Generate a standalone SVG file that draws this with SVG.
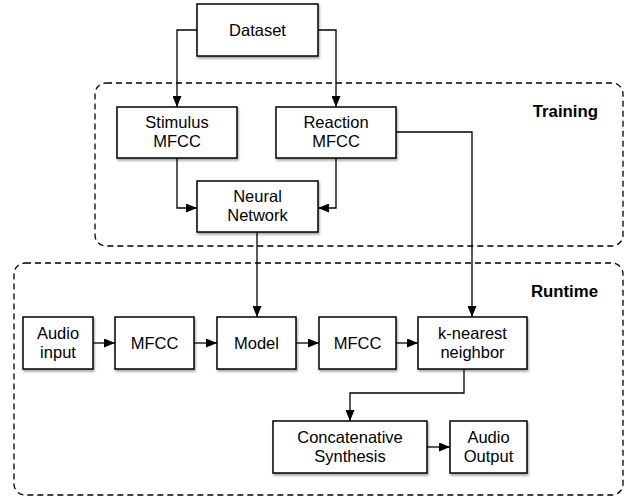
<svg xmlns="http://www.w3.org/2000/svg" width="633" height="497" viewBox="0 0 633 497">
<style>
.box{fill:#fff;stroke:#000;stroke-width:1.5;filter:url(#sh)}
.grp{fill:none;stroke:#000;stroke-width:1.3;stroke-dasharray:6,4}
.t{font-family:"Liberation Sans",Arial,sans-serif;font-size:16.5px;fill:#000;text-anchor:middle}
.lbl{font-family:"Liberation Sans",Arial,sans-serif;font-size:16.8px;font-weight:bold;fill:#000;text-anchor:end}
.c{fill:none;stroke:#000;stroke-width:1.3;marker-end:url(#ah)}
</style>
<defs>
<filter id="sh" x="-10%" y="-10%" width="130%" height="140%">
<feDropShadow dx="1" dy="2" stdDeviation="1.2" flood-color="#000" flood-opacity="0.35"/>
</filter>
<marker id="ah" viewBox="0 0 11 9" refX="11" refY="4.5" markerWidth="11" markerHeight="9" markerUnits="userSpaceOnUse" orient="auto">
<path d="M0,0 L11,4.5 L0,9 Z" fill="#000"/>
</marker>
</defs>
<g id="training">
<rect class="grp" x="95" y="83" width="528" height="163" rx="11"/>
<text class="lbl" x="598" y="117">Training</text>
</g>
<g id="runtime">
<rect class="grp" x="14" y="263" width="609" height="232" rx="11"/>
<text class="lbl" x="598" y="297">Runtime</text>
</g>
<g id="connectors">
<path class="c" d="M197,30 H177 V107"/>
<path class="c" d="M318,30 H336 V107"/>
<path class="c" d="M177,158 V208 H197"/>
<path class="c" d="M336,158 V208 H318"/>
<path class="c" d="M396,132 H472 V317"/>
<path class="c" d="M257,232 V317"/>
<path class="c" d="M93,343 H115"/>
<path class="c" d="M194,343 H217"/>
<path class="c" d="M296,343 H319"/>
<path class="c" d="M396,343 H418"/>
<path class="c" d="M464,369 V393 H350 V421"/>
<path class="c" d="M427,447 H450"/>
</g>
<g id="dataset">
<rect class="box" x="197" y="4" width="121" height="52"/>
<text class="t" x="257.5" y="36">Dataset</text>
</g>
<g id="stimulus">
<rect class="box" x="117" y="107" width="120" height="51"/>
<text class="t" x="177" y="128">Stimulus</text>
<text class="t" x="177" y="147">MFCC</text>
</g>
<g id="reaction">
<rect class="box" x="276" y="107" width="120" height="51"/>
<text class="t" x="336" y="128">Reaction</text>
<text class="t" x="336" y="147">MFCC</text>
</g>
<g id="neural">
<rect class="box" x="197" y="181" width="121" height="51"/>
<text class="t" x="257.5" y="202">Neural</text>
<text class="t" x="257.5" y="221">Network</text>
</g>
<g id="audioin">
<rect class="box" x="23" y="317" width="70" height="52"/>
<text class="t" x="58" y="339">Audio</text>
<text class="t" x="58" y="358">input</text>
</g>
<g id="mfcc1">
<rect class="box" x="115" y="317" width="79" height="52"/>
<text class="t" x="154.5" y="349">MFCC</text>
</g>
<g id="model">
<rect class="box" x="217" y="317" width="79" height="52"/>
<text class="t" x="256.5" y="349">Model</text>
</g>
<g id="mfcc2">
<rect class="box" x="319" y="317" width="77" height="52"/>
<text class="t" x="357.5" y="349">MFCC</text>
</g>
<g id="knn">
<rect class="box" x="418" y="317" width="109" height="52"/>
<text class="t" x="472.5" y="339">k-nearest</text>
<text class="t" x="472.5" y="358">neighbor</text>
</g>
<g id="concat">
<rect class="box" x="273" y="421" width="154" height="52"/>
<text class="t" x="350" y="443">Concatenative</text>
<text class="t" x="350" y="462">Synthesis</text>
</g>
<g id="audioout">
<rect class="box" x="450" y="421" width="77" height="52"/>
<text class="t" x="488.5" y="443">Audio</text>
<text class="t" x="488.5" y="462">Output</text>
</g>
</svg>
